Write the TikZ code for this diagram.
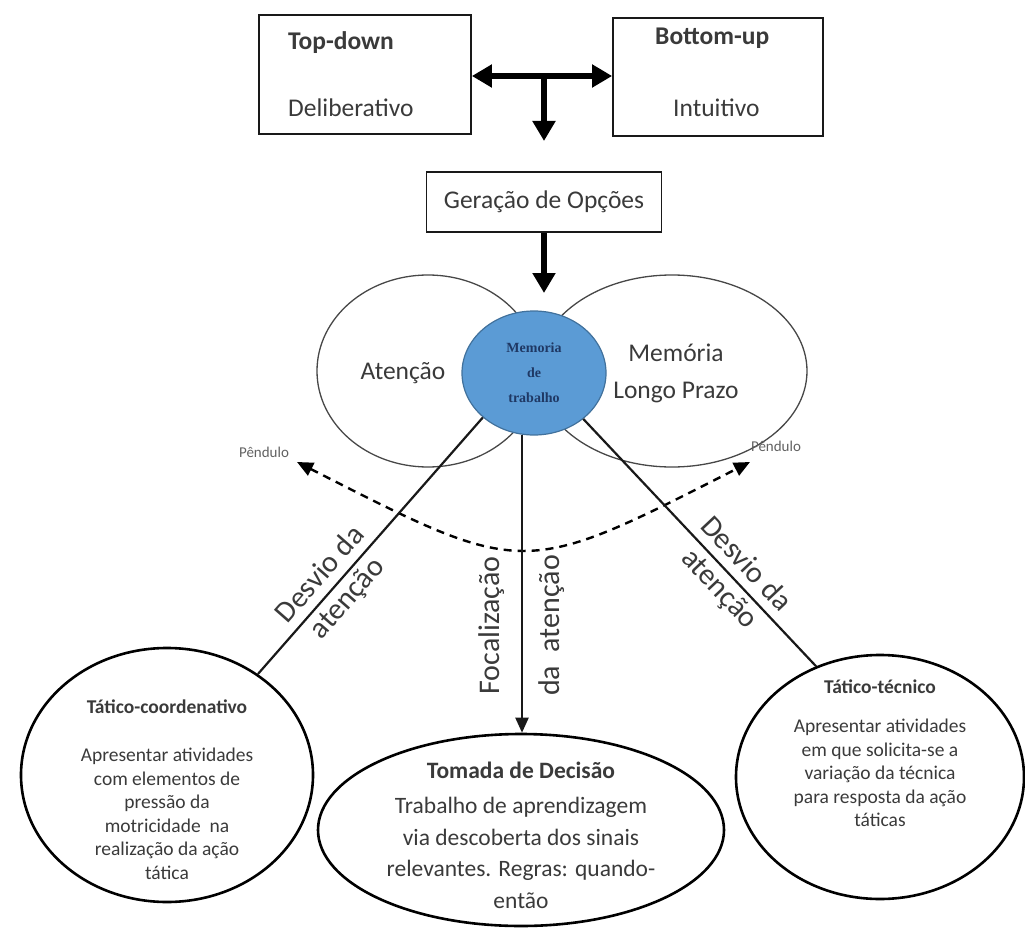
\documentclass[tikz,border=0pt]{standalone}
\usepackage{fontspec}
\setmainfont{Carlito}
\newfontfamily\serifbold{Liberation Serif}
\usetikzlibrary{arrows.meta,shapes.geometric,positioning}
\definecolor{ptext}{RGB}{58,58,58}
\definecolor{pblue}{RGB}{91,155,213}
\definecolor{pblued}{RGB}{65,113,156}
\definecolor{pnavy}{RGB}{31,56,100}
\definecolor{pline}{RGB}{25,25,25}
\tikzset{
  box/.style={rectangle,draw=pline,line width=1.8pt,inner sep=0pt},
  head/.style={inner sep=0pt,text=ptext,font=\fontsize{25.5}{30}\selectfont},
  oval/.style={ellipse,draw=pline!80,line width=1.3pt,inner sep=0pt},
  wm/.style={ellipse,draw=pblued,line width=1.2pt,fill=pblue,inner sep=0pt,
             minimum width=144pt,minimum height=124pt,align=center,text=pnavy,
             font=\serifbold\bfseries\fontsize{14}{25}\selectfont},
  goal/.style={ellipse,draw=black,line width=2.6pt,inner sep=0pt},
  title/.style={inner sep=0pt,text=ptext,font=\bfseries\fontsize{19.5}{23}\selectfont},
  desc/.style={inner sep=0pt,text=ptext,align=center,font=\fontsize{19.5}{23.5}\selectfont},
  lbl/.style={inner sep=0pt,text=ptext,align=center,font=\fontsize{30}{36}\selectfont},
  small/.style={inner sep=0pt,text=ptext!80,font=\fontsize{15}{17}\selectfont},
  big/.style={-{Triangle[length=20pt,width=22pt]},line width=5.5pt},
  bigboth/.style={{Triangle[length=20pt,width=22pt]}-{Triangle[length=20pt,width=22pt]},line width=6pt},
  link/.style={pline,line width=2.2pt},
  pend/.style={{Triangle[length=16pt,width=14pt]}-{Triangle[length=16pt,width=14pt]},
               line width=2.4pt,dash pattern=on 8pt off 6pt},
}

\begin{document}
\begin{tikzpicture}[x=1pt,y=1pt]
  \useasboundingbox (0,0) rectangle (1025,-928);
  % processing modes
  \node[box,minimum width=212pt,minimum height=119pt] (tdn) at (365,-74.5) {};
  \node[box,minimum width=210pt,minimum height=118pt] (bup) at (718,-77) {};
  \node[head,anchor=base west] (tdnh) at (288,-50) {\bfseries Top-down};
  \node[head,anchor=base west] (tdnt) at (288,-117) {Deliberativo};
  \node[head,anchor=base west] (buph) at (655,-45) {\bfseries Bottom-up};
  \node[head,anchor=base west] (bupt) at (673,-117) {Intuitivo};
  \coordinate (j) at (544,-76);
  \coordinate (jt) at (544,-141);
  \draw[bigboth] (j -| tdn.east) -- (j -| bup.west);
  \draw[big] (j) -- (jt);
  % options
  \node[box,head,minimum width=235pt,minimum height=60pt] (ger) at (544,-202) {Geração de Opções};
  \coordinate (gt) at (544,-293);
  \draw[big] (ger) -- (gt);
  % attention / memory
  \node[oval,minimum width=222pt,minimum height=192pt] (aten) at (428,-371) {};
  \node[oval,minimum width=270pt,minimum height=192pt] (mlp) at (672,-371) {};
  \node[head] (atent) at (403,-373) {Atenção};
  \node[head,align=center,font=\fontsize{25.5}{37}\selectfont] (mlpt) at (676,-373) {Memória\\Longo Prazo};
  \node[wm] (mt) at (534,-373) {Memoria\\de\\trabalho};
  % pendulum
  \node[small] (pdl) at (264,-452) {Pêndulo};
  \node[small] (pdr) at (776,-446) {Pêndulo};
  \coordinate (pl) at (297,-462);
  \coordinate (pr) at (750,-462);
  \draw[pend] (pl) to[out=-27,in=207,looseness=1.45] (pr);
  % outcomes
  \node[goal,minimum width=292pt,minimum height=254pt] (tco) at (167,-775) {};
  \node[goal,minimum width=406pt,minimum height=192pt] (tom) at (521,-830) {};
  \node[goal,minimum width=288pt,minimum height=244pt] (tte) at (880,-777) {};
  \node[title] (tcoh) at (167,-707) {Tático-coordenativo};
  \node[desc] (tcod) at (167,-814) {Apresentar atividades\\com elementos de\\pressão da\\motricidade\ \ na\\realização da ação\\tática};
  \node[title] (tteh) at (880,-687) {Tático-técnico};
  \node[desc] (tted) at (880,-773) {Apresentar atividades\\em que solicita-se a\\variação da técnica\\para resposta da ação\\táticas};
  \node[desc,font=\fontsize{23.5}{31.5}\selectfont] (tomt) at (521,-835)
    {{\bfseries Tomada de Decisão}\\[4pt]Trabalho de aprendizagem\\via descoberta dos sinais\\relevantes. Regras: quando-\\então};
  % attention links
  \draw[link] (mt.221) -- node[lbl,sloped,pos=0.66] {Desvio da\\atenção} (tco.48);
  \draw[link] (mt.317) -- node[lbl,sloped,pos=0.64] {Desvio da\\atenção} (tte.120);
  \draw[link,-{Triangle[length=15pt,width=13pt]}] (mt.259)
    -- node[lbl,rotate=90,pos=0.64,font=\fontsize{30}{60}\selectfont] {Focalização\\da~~atenção} (mt.259 |- tom.north);
\end{tikzpicture}
\end{document}
